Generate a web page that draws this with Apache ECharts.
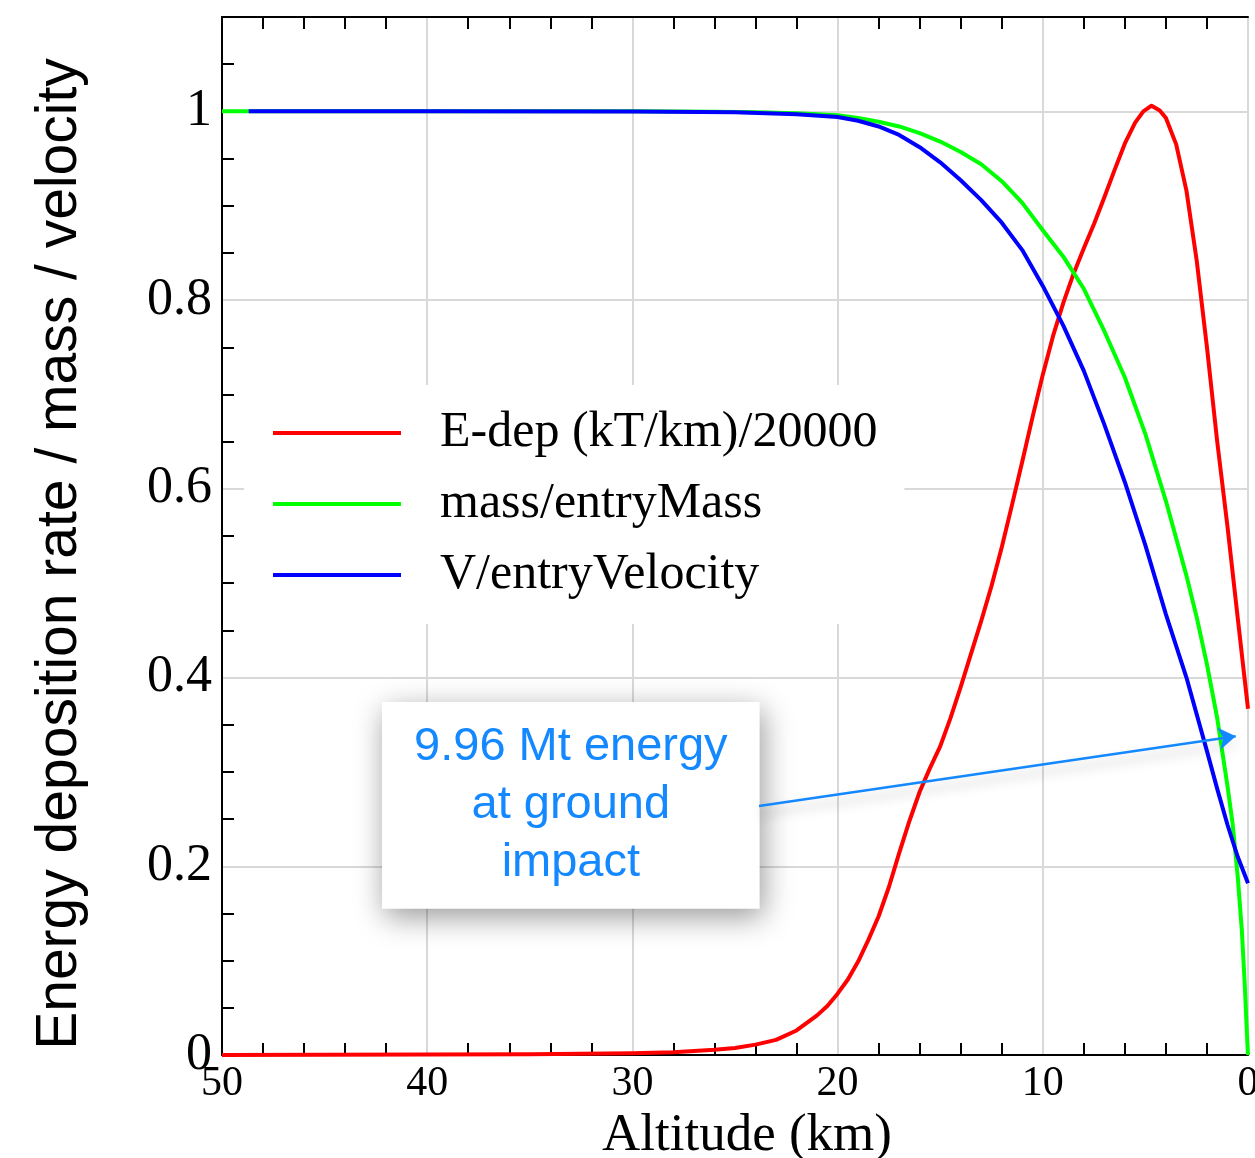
<!DOCTYPE html>
<html>
<head>
<meta charset="utf-8">
<script src="https://cdn.jsdelivr.net/npm/echarts/dist/echarts.min.js"></script>
<style>
  html, body { margin: 0; padding: 0; background: #fff; }
  #chart { width: 1255px; height: 1158px; }
</style>
</head>
<body>
<div id="chart"></div>
<script>
// ---- Data (altitude in km) ----
const seriesNames = ['E-dep (kT/km)/20000', 'mass/entryMass', 'V/entryVelocity'];

const altRed = [50,45,40,35,30,28,26,25,24,23,22,21,20.5,20,19.5,19,18.5,18,17.5,17,16.5,16,15.5,15,14.5,14,13.5,13,12.5,12,11.5,11,10.5,10,9.5,9,8.5,8,7.5,7,6.5,6,5.5,5.1,4.7,4.3,4,3.5,3,2.5,2,1.5,1,0.5,0];
const edepValues = [0,0.0002,0.0004,0.0008,0.0018,0.003,0.0055,0.0075,0.011,0.016,0.026,0.042,0.052,0.065,0.08,0.099,0.122,0.147,0.178,0.214,0.248,0.279,0.304,0.327,0.357,0.39,0.425,0.46,0.497,0.538,0.583,0.629,0.676,0.721,0.762,0.797,0.828,0.855,0.881,0.909,0.938,0.966,0.988,1.0,1.006,1.001,0.993,0.965,0.916,0.842,0.75,0.65,0.56,0.463,0.367];

const altGreen = [50,40,30,26,24,22,20,19,18,17,16,15,14,13,12,11,10,9,8,7,6,5,4,3,2.5,2,1.5,1,0.75,0.5,0.3,0.15,0.06,0];
const massValues = [1,1,1,0.9995,0.999,0.998,0.996,0.993,0.989,0.984,0.977,0.968,0.957,0.944,0.926,0.903,0.874,0.846,0.812,0.767,0.718,0.658,0.587,0.508,0.464,0.414,0.357,0.285,0.245,0.189,0.132,0.071,0.026,0];

const altBlue = [48.7,40,30,25,22,20,19,18,17,16,15,14,13,12,11,10,9,8,7,6,5,4,3,2,1.5,1,0.5,0];
const velValues = [1,1,0.9998,0.999,0.997,0.994,0.99,0.984,0.975,0.962,0.946,0.927,0.906,0.882,0.853,0.815,0.773,0.725,0.668,0.607,0.54,0.467,0.40,0.322,0.282,0.244,0.21,0.182];

const xMinorTicks = [2,4,6,8,12,14,16,18,22,24,26,28,32,34,36,38,42,44,46,48];
const yMinorTicks = [0.05,0.1,0.15,0.25,0.3,0.35,0.45,0.5,0.55,0.65,0.7,0.75,0.85,0.9,0.95,1.05];
const yLabelValues = [0,0.2,0.4,0.6,0.8,1];

const annotationText = '9.96 Mt energy\nat ground\nimpact';
const annotationBox = [[42.2, 0.374], [23.8, 0.155]];
const annotationArrow = [[23.83, 0.2638], [0.6, 0.3379]];

// ---- Build ----
function zip(xs, ys) { return xs.map((x, i) => [x, ys[i]]); }

const serif = 'Liberation Serif, Times New Roman, serif';
const sans = 'Liberation Sans, Arial, Helvetica, sans-serif';
const annColor = '#1488ff';
const gridColor = '#d9d9d9';

const chart = echarts.init(document.getElementById('chart'), null, { renderer: 'canvas' });

const minorXAxis = (pos) => ({
  type: 'value', position: pos, inverse: true, min: 0, max: 50, interval: 2,
  axisLine: { show: pos === 'top', onZero: false, lineStyle: { color: '#000', width: 2 } },
  axisTick: { show: true, inside: true, length: 12, customValues: xMinorTicks, lineStyle: { color: '#000', width: 2 } },
  axisLabel: { show: false }, splitLine: { show: false }
});

const lineSeries = (name, xs, ys, color) => ({
  name, type: 'line', xAxisIndex: 0, yAxisIndex: 0,
  data: zip(xs, ys), symbol: 'none', showSymbol: false, smooth: false,
  lineStyle: { color, width: 4, join: 'round' }, itemStyle: { color }, z: 3
});

const blue = lineSeries(seriesNames[2], altBlue, velValues, '#0000ff');
blue.markArea = {
  silent: true,
  itemStyle: {
    color: '#ffffff', shadowBlur: 28, shadowColor: 'rgba(0,0,0,0.4)',
    shadowOffsetX: 3, shadowOffsetY: 8
  },
  label: {
    show: true, position: 'inside', formatter: annotationText,
    fontFamily: sans, fontSize: 47, lineHeight: 58, color: annColor, align: 'center'
  },
  data: [[{ coord: annotationBox[0] }, { coord: annotationBox[1] }]]
};
blue.markLine = {
  silent: true, symbol: ['none', 'arrow'], symbolSize: 17,
  label: { show: false },
  lineStyle: { color: annColor, width: 2.5, type: 'solid',
    shadowBlur: 12, shadowColor: 'rgba(0,0,0,0.25)', shadowOffsetY: 8 },
  data: [[{ coord: annotationArrow[0] }, { coord: annotationArrow[1] }]]
};

const option = {
  animation: false,
  backgroundColor: '#fff',
  grid: { left: 222, right: 7, top: 17, bottom: 103, containLabel: false, outerBoundsMode: 'none' },
  legend: {
    orient: 'vertical', left: 244, top: 385,
    backgroundColor: '#fff',
    padding: [23, 27, 24, 29],
    icon: 'rect',
    itemWidth: 128, itemHeight: 4, itemGap: 21,
    selectedMode: false,
    data: seriesNames,
    textStyle: { fontFamily: serif, fontSize: 50, color: '#000', padding: [0, 0, 0, 34] }
  },
  xAxis: [
    {
      type: 'value', position: 'bottom', inverse: true, min: 0, max: 50, interval: 10,
      axisLine: { show: true, onZero: false, lineStyle: { color: '#000', width: 2 } },
      axisTick: { show: false },
      axisLabel: { fontFamily: serif, fontSize: 42, color: '#000', margin: 8 },
      splitLine: { show: true, lineStyle: { color: gridColor, width: 2 } },
      name: 'Altitude (km)', nameLocation: 'middle', nameGap: 52,
      nameTextStyle: { fontFamily: serif, fontSize: 53, color: '#000', padding: [0, 0, 0, 24] }
    },
    minorXAxis('bottom'),
    minorXAxis('top')
  ],
  yAxis: [
    {
      type: 'value', position: 'left', min: 0, max: 1.1, interval: 0.2,
      axisLine: { show: true, onZero: false, lineStyle: { color: '#000', width: 2 } },
      axisTick: { show: false },
      axisLabel: {
        fontFamily: serif, fontSize: 52, color: '#000', margin: 10,
        customValues: yLabelValues,
        formatter: (v) => (v > 1.01 ? '' : String(+(+v).toFixed(2)))
      },
      splitLine: { show: true, lineStyle: { color: gridColor, width: 2 } },
      name: 'Energy deposition rate / mass / velocity', nameLocation: 'middle', nameGap: 133, nameRotate: 90,
      nameTextStyle: { fontFamily: sans, fontSize: 57, color: '#000', padding: [0, 36, 0, 0] }
    },
    {
      // minor ticks on the left border
      type: 'value', position: 'left', min: 0, max: 1.1, interval: 0.05,
      axisLine: { show: false, onZero: false },
      axisTick: { show: true, inside: true, length: 12, customValues: yMinorTicks, lineStyle: { color: '#000', width: 2 } },
      axisLabel: { show: false }, splitLine: { show: false }
    }
  ],
  series: [
    lineSeries(seriesNames[0], altRed, edepValues, '#ff0000'),
    lineSeries(seriesNames[1], altGreen, massValues, '#00ff00'),
    blue
  ]
};

chart.setOption(option);
</script>
</body>
</html>
